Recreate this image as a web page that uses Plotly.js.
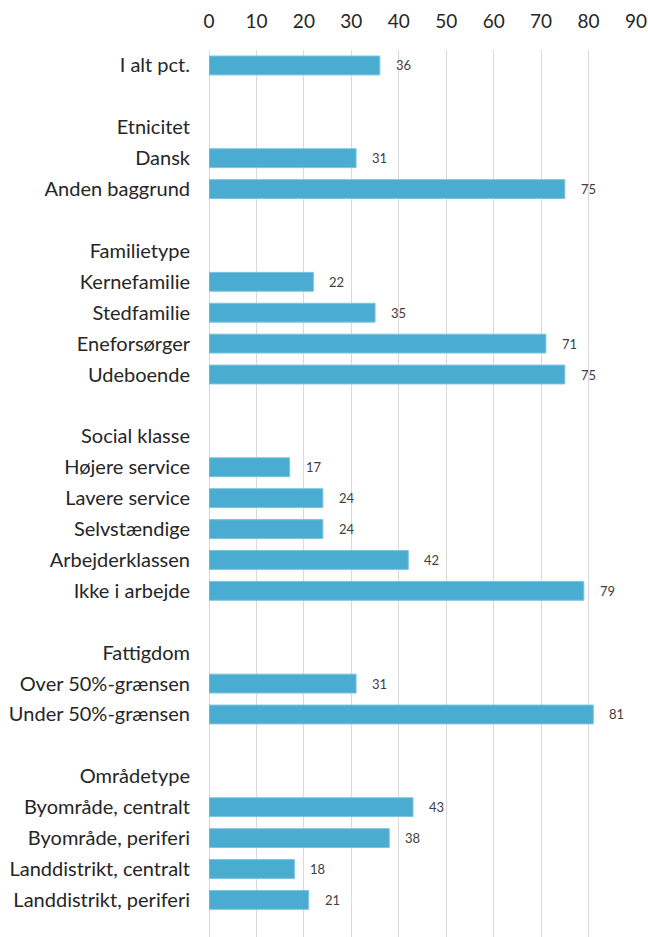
<!DOCTYPE html>
<html>
<head>
<meta charset="utf-8">
<script src="https://cdn.plot.ly/plotly-3.0.1.min.js"></script>
<style>html,body{margin:0;padding:0;background:#fff;}</style>
</head>
<body>
<div id="chart" style="width:648px;height:937px;"></div>
<script>
// Row labels (top to bottom). Blank rows are unique whitespace strings.
const categories = [
  "I alt pct.", " ",
  "Etnicitet", "Dansk", "Anden baggrund", "  ",
  "Familietype", "Kernefamilie", "Stedfamilie", "Eneforsørger", "Udeboende", "   ",
  "Social klasse", "Højere service", "Lavere service", "Selvstændige", "Arbejderklassen", "Ikke i arbejde", "    ",
  "Fattigdom", "Over 50%-grænsen", "Under 50%-grænsen", "     ",
  "Områdetype", "Byområde, centralt", "Byområde, periferi", "Landdistrikt, centralt", "Landdistrikt, periferi"
];
const values = [
  36, null,
  null, 31, 75, null,
  null, 22, 35, 71, 75, null,
  null, 17, 24, 24, 42, 79, null,
  null, 31, 81, null,
  null, 43, 38, 18, 21
];
const xTicks = [0, 10, 20, 30, 40, 50, 60, 70, 80, 90];

const barColor = "#4BACD2";
const trace = {
  type: "bar",
  orientation: "h",
  x: values,
  y: categories,
  marker: { color: barColor, line: { color: "#7cc3e0", width: 1 } },
  hoverinfo: "skip"
};

const annotations = [];
categories.forEach((c, i) => {
  if (values[i] !== null) {
    annotations.push({
      x: values[i], y: c, xref: "x", yref: "y",
      text: String(values[i]), showarrow: false,
      xanchor: "left", xshift: 14,
      font: { family: "Lato, 'Open Sans', sans-serif", size: 13, color: "#404040" }
    });
  }
});

const layout = {
  width: 648, height: 937,
  margin: { l: 209, r: 12, t: 50, b: 0 },
  paper_bgcolor: "#fff", plot_bgcolor: "#fff",
  showlegend: false,
  bargap: 0.39,
  font: { family: "Lato, 'Open Sans', sans-serif", color: "#262626" },
  xaxis: {
    side: "top",
    range: [0, 90],
    tickvals: xTicks,
    ticktext: xTicks.map(String),
    showgrid: true, gridcolor: "#d9d9d9", gridwidth: 1,
    zeroline: true, zerolinecolor: "#d9d9d9", zerolinewidth: 1,
    showline: false, ticks: "",
    ticklabelstandoff: 17,
    tickfont: { size: 19, color: "#262626" },
    fixedrange: true
  },
  yaxis: {
    type: "category",
    categoryorder: "array", categoryarray: categories,
    range: [28.2, -0.5],
    showgrid: false, zeroline: false, showline: false, ticks: "",
    ticklabelstandoff: 18,
    tickfont: { size: 20, color: "#262626" },
    fixedrange: true
  },
  annotations: annotations
};

Plotly.newPlot("chart", [trace], layout, { displayModeBar: false, staticPlot: true });
</script>
</body>
</html>
